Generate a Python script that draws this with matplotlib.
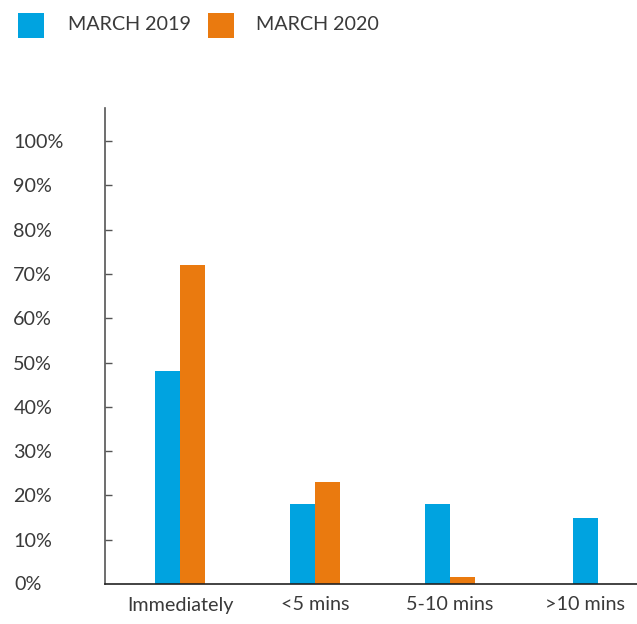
import matplotlib
matplotlib.use("Agg")
import matplotlib.pyplot as plt
from matplotlib.patches import Rectangle
import numpy as np

categories = ["Immediately", "<5 mins", "5-10 mins", ">10 mins"]
series_names = ["MARCH 2019", "MARCH 2020"]
values_2019 = [48, 18, 18, 15]
values_2020 = [72, 23, 1.5, None]
colors = ["#00A3E0", "#EA7A0F"]
yticks = list(range(0, 101, 10))
ytick_labels = [f"{v}%" for v in yticks]

plt.rcParams['font.family'] = ['Lato', 'DejaVu Sans']
FS = 14.2
TC = "#3a3a3a"
W, H = 637, 624
fig = plt.figure(figsize=(W / 100, H / 100), dpi=100)
ax = fig.add_axes([105 / W, (H - 584) / H, (W - 105) / W, (584 - 108) / H])

bw = 25 / 135
x = np.arange(len(categories))
for i, (a, b) in enumerate(zip(values_2019, values_2020)):
    if b is None:
        ax.bar(x[i], a, width=bw, color=colors[0], linewidth=0)
    else:
        ax.bar(x[i] - bw / 2, a, width=bw, color=colors[0], linewidth=0)
        ax.bar(x[i] + bw / 2, b, width=bw, color=colors[1], linewidth=0)

ax.set_xlim((105 - 180) / 135, (637 - 180) / 135)
ax.set_ylim(0, (584 - 108) / 4.43)
ax.set_xticks(x)
ax.set_xticklabels(categories, fontsize=FS, color=TC)
ax.tick_params(axis='x', length=0, pad=9)
ax.set_yticks(yticks[1:])
ax.set_yticklabels(ytick_labels[1:], fontsize=FS, color=TC, ha='left')
ax.tick_params(axis='y', direction='in', length=5, width=1, color='#555555', pad=66)
# 0% label
ax.text((14 - 105) / (W - 105), 0, ytick_labels[0], transform=ax.get_yaxis_transform(),
        fontsize=FS, color=TC, va='center', ha='left')
for s in ['top', 'right']:
    ax.spines[s].set_visible(False)
ax.spines['left'].set_color('#555555')
ax.spines['left'].set_linewidth(1.2)
ax.spines['bottom'].set_color('#222222')
ax.spines['bottom'].set_linewidth(1.2)

# legend
lx = [18, 208]
tx = [68, 256]
for i, name in enumerate(series_names):
    fig.patches.append(Rectangle((lx[i] / W, (H - 38) / H), 26 / W, 25 / H,
                                 transform=fig.transFigure, color=colors[i], lw=0))
    fig.text(tx[i] / W, (H - 24) / H, name, fontsize=FS, color=TC,
             va='center', ha='left')

fig.savefig("out.png", dpi=100)
